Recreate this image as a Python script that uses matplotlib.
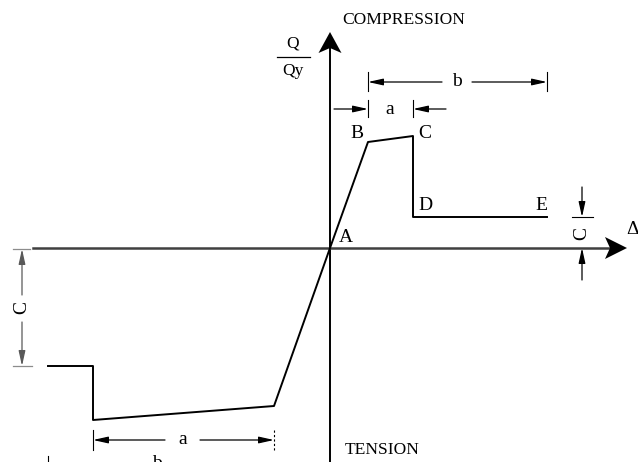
import numpy as np
import matplotlib.pyplot as plt

# Backbone curve, origin at A (units: drawing units, x = deformation, y = Q/Qy)
curve_x = [-282, -237, -237, -56, 0, 38, 83, 83, 217]
curve_y = [-118, -118, -172, -158, 0, 106, 112, 31, 31]
point_labels = ["A", "B", "C", "D", "E"]
label_x = [16, 27, 95, 95, 211]
label_y = [11, 114, 114, 42, 42]

plt.rcParams["font.family"] = ["Liberation Serif", "DejaVu Serif"]

fig = plt.figure(figsize=(6.38, 4.62), dpi=100)
ax = fig.add_axes([0, 0, 1, 1])
ax.set_xlim(-330, 308)
ax.set_ylim(-214, 248)
ax.axis("off")

FS = 14
FT = 12.6


def dim_arrow(x0, y0, x1, y1, color="black", lw=0.9):
    """Line from (x0, y0) ending with a small filled head at (x1, y1)."""
    ax.annotate("", xy=(x1, y1), xytext=(x0, y0),
                arrowprops=dict(arrowstyle="-|>,head_length=0.9,head_width=0.2",
                                color=color, lw=lw, shrinkA=0, shrinkB=0,
                                mutation_scale=10))


def big_head(tip, direction, length=21, half=11.5, notch=5):
    """Concave 'stealth' arrow head for the main axes."""
    tx, ty = tip
    dx, dy = direction
    px, py = -dy, dx
    pts = np.array([
        [tx, ty],
        [tx - dx * length + px * half, ty - dy * length + py * half],
        [tx - dx * (length - notch), ty - dy * (length - notch)],
        [tx - dx * length - px * half, ty - dy * length - py * half],
    ])
    ax.fill(pts[:, 0], pts[:, 1], color="black", lw=0, zorder=4)


# Main axes
ax.plot([0, 0], [-220, 200], color="black", lw=1.4, zorder=3)
ax.plot([-297, 282], [0, 0], color="0.25", lw=1.8, zorder=3)
big_head((0, 216), (0, 1))
big_head((297, 0), (1, 0), length=22, half=11)

# Backbone
ax.plot(curve_x, curve_y, color="black", lw=1.4, zorder=5)
for t, x, y in zip(point_labels, label_x, label_y):
    ax.text(x, y, t, fontsize=FS, ha="center", va="center")

# Axis titles
ax.text(12, 228, "COMPRESSION", fontsize=FT, ha="left", va="center")
ax.text(15, -202, "TENSION", fontsize=FT, ha="left", va="center")
ax.text(-37, 205, "Q", fontsize=FT, ha="center", va="center")
ax.plot([-53, -20], [191, 191], color="black", lw=0.9)
ax.text(-37, 177, "Qy", fontsize=FT, ha="center", va="center")
ax.text(303, 18, "Δ", fontsize=FS, ha="center", va="center", clip_on=True)

# Top "b" dimension
yb = 166
for x in (38, 217):
    ax.plot([x, x], [157, 176], color="black", lw=0.8)
dim_arrow(112, yb, 38, yb)
dim_arrow(142, yb, 217, yb)
ax.text(127, yb, "b", fontsize=FS, ha="center", va="center")

# Top "a" dimension
ya = 139
for x in (38, 83):
    ax.plot([x, x], [131, 148], color="black", lw=0.8)
dim_arrow(4, ya, 38, ya)
dim_arrow(116, ya, 83, ya)
ax.text(60, ya - 1, "a", fontsize=FS, ha="center", va="center")

# Right "C" dimension
xc = 252
ax.plot([242, 263], [31, 31], color="black", lw=0.8)
dim_arrow(xc, 61, xc, 31)
dim_arrow(xc, -32, xc, 0)
ax.text(xc, 15, "C", fontsize=FS, ha="center", va="center", rotation=90)

# Left "C" dimension
xl = -308
ax.plot([-317, -300], [-1, -1], color="0.55", lw=0.9)
ax.plot([-317, -298], [-118, -118], color="0.55", lw=0.9)
dim_arrow(xl, -47, xl, -1, color="0.35")
dim_arrow(xl, -74, xl, -118, color="0.35")
ax.text(xl, -60, "C", fontsize=FS, ha="center", va="center", rotation=90)

# Bottom "a" dimension
yba = -192
ax.plot([-237, -237], [-182, -202], color="black", lw=0.8)
ax.plot([-56, -56], [-182, -204], color="black", lw=0.8, ls=(0, (2, 2)))
dim_arrow(-165, yba, -237, yba)
dim_arrow(-130, yba, -56, yba)
ax.text(-147, yba, "a", fontsize=FS, ha="center", va="center")

# Bottom "b" dimension (cut at the lower edge)
ybb = -215
ax.plot([-282, -282], [-208, -220], color="black", lw=0.8)
dim_arrow(-200, ybb, -282, ybb)
dim_arrow(-150, ybb, -58, ybb)
ax.text(-173, ybb - 1, "b", fontsize=FS, ha="center", va="center", clip_on=True)

fig.savefig("out.png", dpi=100)
